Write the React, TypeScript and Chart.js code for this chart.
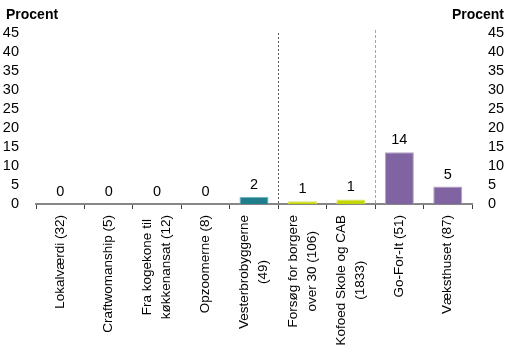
import React, { useEffect, useRef } from "react";
import { Chart, registerables } from "chart.js";

Chart.register(...registerables);

const categories: string[][] = [
  ["Lokalværdi (32)"],
  ["Craftwomanship (5)"],
  ["Fra kogekone til", "køkkenansat (12)"],
  ["Opzoomerne (8)"],
  ["Vesterbrobyggerne", "(49)"],
  ["Forsøg for borgere", "over 30 (106)"],
  ["Kofoed Skole og CAB", "(1833)"],
  ["Go-For-It (51)"],
  ["Væksthuset (87)"],
];
const values: number[] = [0, 0, 0, 0, 1.9, 0.7, 1.2, 13.6, 4.6];
const valueLabels: string[] = ["0", "0", "0", "0", "2", "1", "1", "14", "5"];
const barColors: string[] = [
  "#1F7E8C", "#1F7E8C", "#1F7E8C", "#1F7E8C", "#1F7E8C",
  "#C4D600", "#C4D600", "#8064A2", "#8064A2",
];
const barBorders: string[] = [
  "#6FB9C4", "#6FB9C4", "#6FB9C4", "#6FB9C4", "#6FB9C4",
  "#DCE86A", "#DCE86A", "#B4A4CC", "#B4A4CC",
];
const separatorsAfter: number[] = [4, 6];
const separatorColors: string[] = ["#595959", "#A6A6A6"];
const yMax = 45;
const yStep = 5;
const axisTitle = "Procent";

const FONT = "'Liberation Sans', Arial, sans-serif";

export default function App() {
  const ref = useRef<HTMLCanvasElement | null>(null);

  useEffect(() => {
    const canvas = ref.current;
    if (!canvas) return;

    const overlay = {
      id: "overlay",
      afterDatasetsDraw(chart: any) {
        const ctx = chart.ctx;
        const meta = chart.getDatasetMeta(0);
        ctx.save();
        ctx.font = `14.5px ${FONT}`;
        ctx.fillStyle = "#000";
        ctx.textAlign = "center";
        ctx.textBaseline = "middle";
        meta.data.forEach((bar: any, i: number) => {
          ctx.fillText(valueLabels[i], bar.x, bar.y - 12);
        });
        ctx.restore();
      },
      afterDraw(chart: any) {
        const ctx = chart.ctx;
        const x = chart.scales.x;
        const area = chart.chartArea;
        separatorsAfter.forEach((idx, k) => {
          const px = Math.round((x.getPixelForValue(idx) + x.getPixelForValue(idx + 1)) / 2) + 0.5;
          ctx.save();
          ctx.strokeStyle = separatorColors[k];
          ctx.lineWidth = 1;
          ctx.setLineDash(k === 0 ? [2, 2] : [3, 2]);
          ctx.beginPath();
          ctx.moveTo(px, area.top - (k === 0 ? 0 : 3));
          ctx.lineTo(px, area.bottom - 1);
          ctx.stroke();
          ctx.restore();
        });
        ctx.save();
        ctx.font = `13.5px ${FONT}`;
        ctx.fillStyle = "#000";
        ctx.textAlign = "center";
        ctx.textBaseline = "middle";
        const topY = area.bottom + 11;
        categories.forEach((lines, i) => {
          const cx = x.getPixelForValue(i);
          const maxW = Math.max(...lines.map((l) => ctx.measureText(l).width));
          lines.forEach((line, j) => {
            const off = (j - (lines.length - 1) / 2) * 19;
            ctx.save();
            ctx.translate(cx + off, topY + maxW / 2);
            ctx.rotate(-Math.PI / 2);
            ctx.fillText(line, 0, 0);
            ctx.restore();
          });
        });
        ctx.restore();
        ctx.save();
        ctx.font = `bold 14px ${FONT}`;
        ctx.fillStyle = "#000";
        ctx.textBaseline = "middle";
        ctx.textAlign = "left";
        ctx.fillText(axisTitle, 6, area.top - 18);
        ctx.textAlign = "right";
        ctx.fillText(axisTitle, chart.width - 5, area.top - 18);
        ctx.restore();
      },
    };

    const yScale = (position: "left" | "right") => ({
      type: "linear" as const,
      position,
      min: 0,
      max: yMax,
      grid: { display: false, drawTicks: false },
      border: { display: false },
      ticks: {
        stepSize: yStep,
        autoSkip: false,
        color: "#000",
        font: { family: FONT, size: 14.5 },
        padding: position === "left" ? 17 : 16,
      },
      afterFit: (s: any) => {
        s.width = position === "left" ? 36 : 37;
      },
    });

    const chart = new Chart(canvas, {
      type: "bar",
      data: {
        labels: categories.map((c) => c.join(" ")),
        datasets: [
          {
            data: values,
            backgroundColor: barColors,
            borderColor: barBorders,
            borderWidth: 1,
            barPercentage: 0.6,
            categoryPercentage: 1,
            yAxisID: "y",
          },
        ],
      },
      options: {
        animation: false,
        responsive: false,
        maintainAspectRatio: false,
        layout: { padding: { top: 33, left: 0, right: 0, bottom: 0 } },
        plugins: {
          legend: { display: false },
          tooltip: { enabled: false },
        },
        scales: {
          x: {
            type: "category",
            offset: true,
            grid: {
              offset: true,
              drawOnChartArea: false,
              drawTicks: true,
              tickLength: 5,
              color: "#404040",
            },
            border: { display: true, color: "#868686", width: 2 },
            ticks: { display: false },
            afterFit: (s: any) => {
              s.height = 154;
            },
          },
          y: yScale("left"),
          y2: yScale("right"),
        },
      },
      plugins: [overlay],
    });

    return () => chart.destroy();
  }, []);

  return (
    <div style={{ position: "fixed", left: 0, top: 0, width: 509, height: 358, background: "#fff" }}>
      <canvas ref={ref} width={509} height={358} style={{ width: 509, height: 358 }} />
    </div>
  );
}
